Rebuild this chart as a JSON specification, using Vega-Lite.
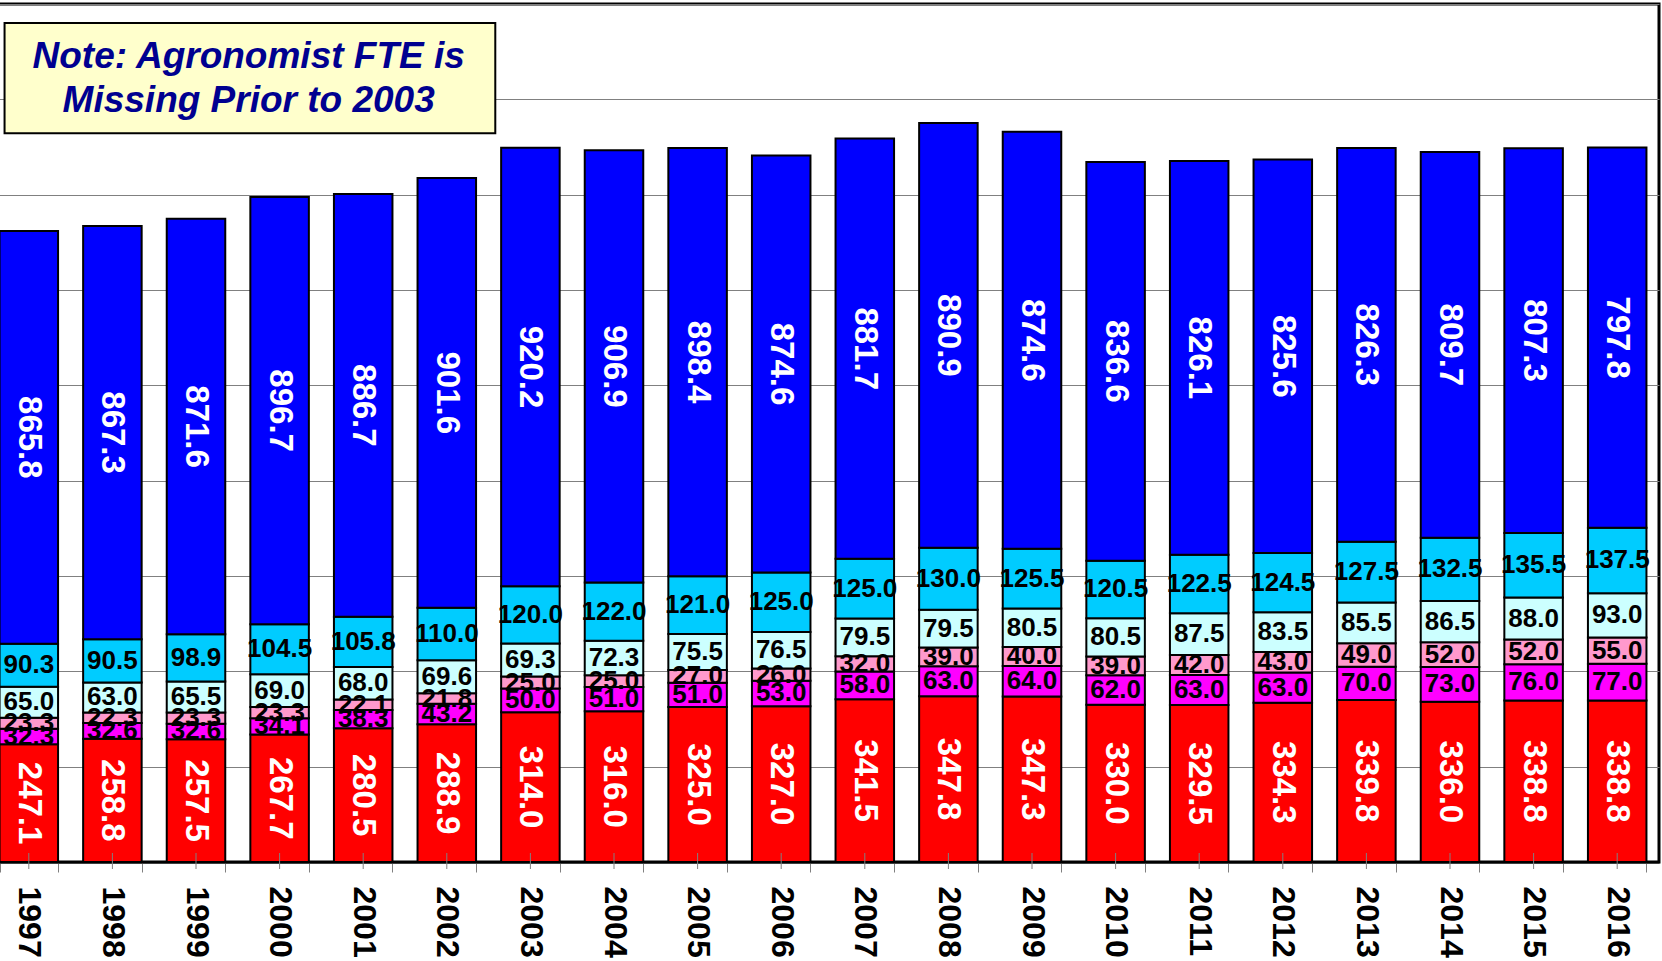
{
  "$schema": "https://vega.github.io/schema/vega-lite/v6.json",
  "width": 1672,
  "height": 858,
  "autosize": "none",
  "padding": {"left": -13, "top": 4, "right": 3, "bottom": 99},
  "background": "white",
  "config": {"view": {"stroke": "black", "strokeWidth": 3}, "font": "Liberation Sans"},
  "layer": [
    {
      "data": {"values": [
        {"year": "1997", "s1": 247.1, "s2": 32.3, "s3": 23.3, "s4": 65.0, "s5": 90.3, "s6": 865.8},
        {"year": "1998", "s1": 258.8, "s2": 32.6, "s3": 22.3, "s4": 63.0, "s5": 90.5, "s6": 867.3},
        {"year": "1999", "s1": 257.5, "s2": 32.6, "s3": 23.3, "s4": 65.5, "s5": 98.9, "s6": 871.6},
        {"year": "2000", "s1": 267.7, "s2": 34.1, "s3": 23.3, "s4": 69.0, "s5": 104.5, "s6": 896.7},
        {"year": "2001", "s1": 280.5, "s2": 38.3, "s3": 22.1, "s4": 68.0, "s5": 105.8, "s6": 886.7},
        {"year": "2002", "s1": 288.9, "s2": 43.2, "s3": 21.8, "s4": 69.6, "s5": 110.0, "s6": 901.6},
        {"year": "2003", "s1": 314.0, "s2": 50.0, "s3": 25.0, "s4": 69.3, "s5": 120.0, "s6": 920.2},
        {"year": "2004", "s1": 316.0, "s2": 51.0, "s3": 25.0, "s4": 72.3, "s5": 122.0, "s6": 906.9},
        {"year": "2005", "s1": 325.0, "s2": 51.0, "s3": 27.0, "s4": 75.5, "s5": 121.0, "s6": 898.4},
        {"year": "2006", "s1": 327.0, "s2": 53.0, "s3": 26.0, "s4": 76.5, "s5": 125.0, "s6": 874.6},
        {"year": "2007", "s1": 341.5, "s2": 58.0, "s3": 32.0, "s4": 79.5, "s5": 125.0, "s6": 881.7},
        {"year": "2008", "s1": 347.8, "s2": 63.0, "s3": 39.0, "s4": 79.5, "s5": 130.0, "s6": 890.9},
        {"year": "2009", "s1": 347.3, "s2": 64.0, "s3": 40.0, "s4": 80.5, "s5": 125.5, "s6": 874.6},
        {"year": "2010", "s1": 330.0, "s2": 62.0, "s3": 39.0, "s4": 80.5, "s5": 120.5, "s6": 836.6},
        {"year": "2011", "s1": 329.5, "s2": 63.0, "s3": 42.0, "s4": 87.5, "s5": 122.5, "s6": 826.1},
        {"year": "2012", "s1": 334.3, "s2": 63.0, "s3": 43.0, "s4": 83.5, "s5": 124.5, "s6": 825.6},
        {"year": "2013", "s1": 339.8, "s2": 70.0, "s3": 49.0, "s4": 85.5, "s5": 127.5, "s6": 826.3},
        {"year": "2014", "s1": 336.0, "s2": 73.0, "s3": 52.0, "s4": 86.5, "s5": 132.5, "s6": 809.7},
        {"year": "2015", "s1": 338.8, "s2": 76.0, "s3": 52.0, "s4": 88.0, "s5": 135.5, "s6": 807.3},
        {"year": "2016", "s1": 338.8, "s2": 77.0, "s3": 55.0, "s4": 93.0, "s5": 137.5, "s6": 797.8}
      ]},
      "transform": [{"fold": ["s1", "s2", "s3", "s4", "s5", "s6"], "as": ["seg", "value"]}],
      "layer": [
        {
          "mark": {"type": "bar", "stroke": "black", "strokeWidth": 2},
          "encoding": {
            "x": {"field": "year", "type": "ordinal", "scale": {"paddingInner": 0.3, "paddingOuter": 0.15},
              "axis": {"title": null, "labelAngle": 90, "labelFont": "Liberation Sans", "labelFontWeight": "bold", "labelFontSize": 32, "labelColor": "black", "labelAlign": "left", "labelBaseline": "middle", "tickBand": "extent", "tickSize": 10, "tickColor": "#808080", "domainColor": "black", "domainWidth": 2, "labelPadding": 14, "grid": false}},
            "y": {"field": "value", "type": "quantitative", "stack": "zero", "scale": {"domain": [0, 1800], "nice": false},
              "axis": {"title": null, "labels": false, "ticks": false, "domain": false, "grid": true, "gridColor": "#808080", "gridWidth": 1, "gridOpacity": 1, "values": [200, 400, 600, 800, 1000, 1200, 1400, 1600, 1800]}},
            "color": {"field": "seg", "type": "nominal", "scale": {"domain": ["s1", "s2", "s3", "s4", "s5", "s6"], "range": ["#FF0000", "#FF00FF", "#FF99CC", "#CCFFFF", "#00CCFF", "#0000FF"]}, "legend": null},
            "order": {"field": "seg", "sort": "ascending"}
          }
        },
        {
          "transform": [{"filter": "datum.seg === 's1'"}],
          "mark": {"type": "rule", "color": "#808080", "strokeWidth": 1, "yOffset": 7, "y2Offset": -9},
          "encoding": {
            "x": {"field": "year", "type": "ordinal"},
            "y": {"datum": 0, "type": "quantitative"},
            "y2": {"datum": 0}
          }
        },
        {
          "mark": {"type": "text", "font": "Liberation Sans", "fontWeight": "bold", "align": "center", "baseline": "middle"},
          "encoding": {
            "x": {"field": "year", "type": "ordinal"},
            "y": {"field": "value", "type": "quantitative", "stack": "zero", "bandPosition": 0.5},
            "detail": {"field": "seg"},
            "order": {"field": "seg", "sort": "ascending"},
            "text": {"field": "value", "type": "quantitative", "format": ".1f"},
            "color": {"condition": {"test": "datum.seg === 's1' || datum.seg === 's6'", "value": "white"}, "value": "black"},
            "angle": {"condition": {"test": "datum.seg === 's1' || datum.seg === 's6'", "value": 90}, "value": 0},
            "size": {"condition": {"test": "datum.seg === 's1' || datum.seg === 's6'", "value": 33}, "value": 26}
          }
        }
      ]
    },
    {
      "data": {"values": [{}]},
      "layer": [
        {
          "mark": {"type": "rect", "fill": "#FFFFCC", "stroke": "black", "strokeWidth": 2},
          "encoding": {
            "x": {"datum": 0.21, "type": "quantitative", "scale": {"domain": [0, 20], "nice": false}, "axis": null},
            "x2": {"datum": 6.08},
            "y": {"datum": 1760, "type": "quantitative"},
            "y2": {"datum": 1529}
          }
        },
        {
          "mark": {"type": "text", "text": ["Note: Agronomist FTE is", "Missing Prior to 2003"], "font": "Liberation Sans", "fontSize": 37, "fontWeight": "bold", "fontStyle": "italic", "color": "#000090", "align": "center", "baseline": "middle", "lineHeight": 44},
          "encoding": {
            "x": {"datum": 3.13, "type": "quantitative"},
            "y": {"datum": 1688, "type": "quantitative"}
          }
        }
      ]
    }
  ],
  "resolve": {"scale": {"x": "independent"}, "axis": {"x": "independent"}}
}
